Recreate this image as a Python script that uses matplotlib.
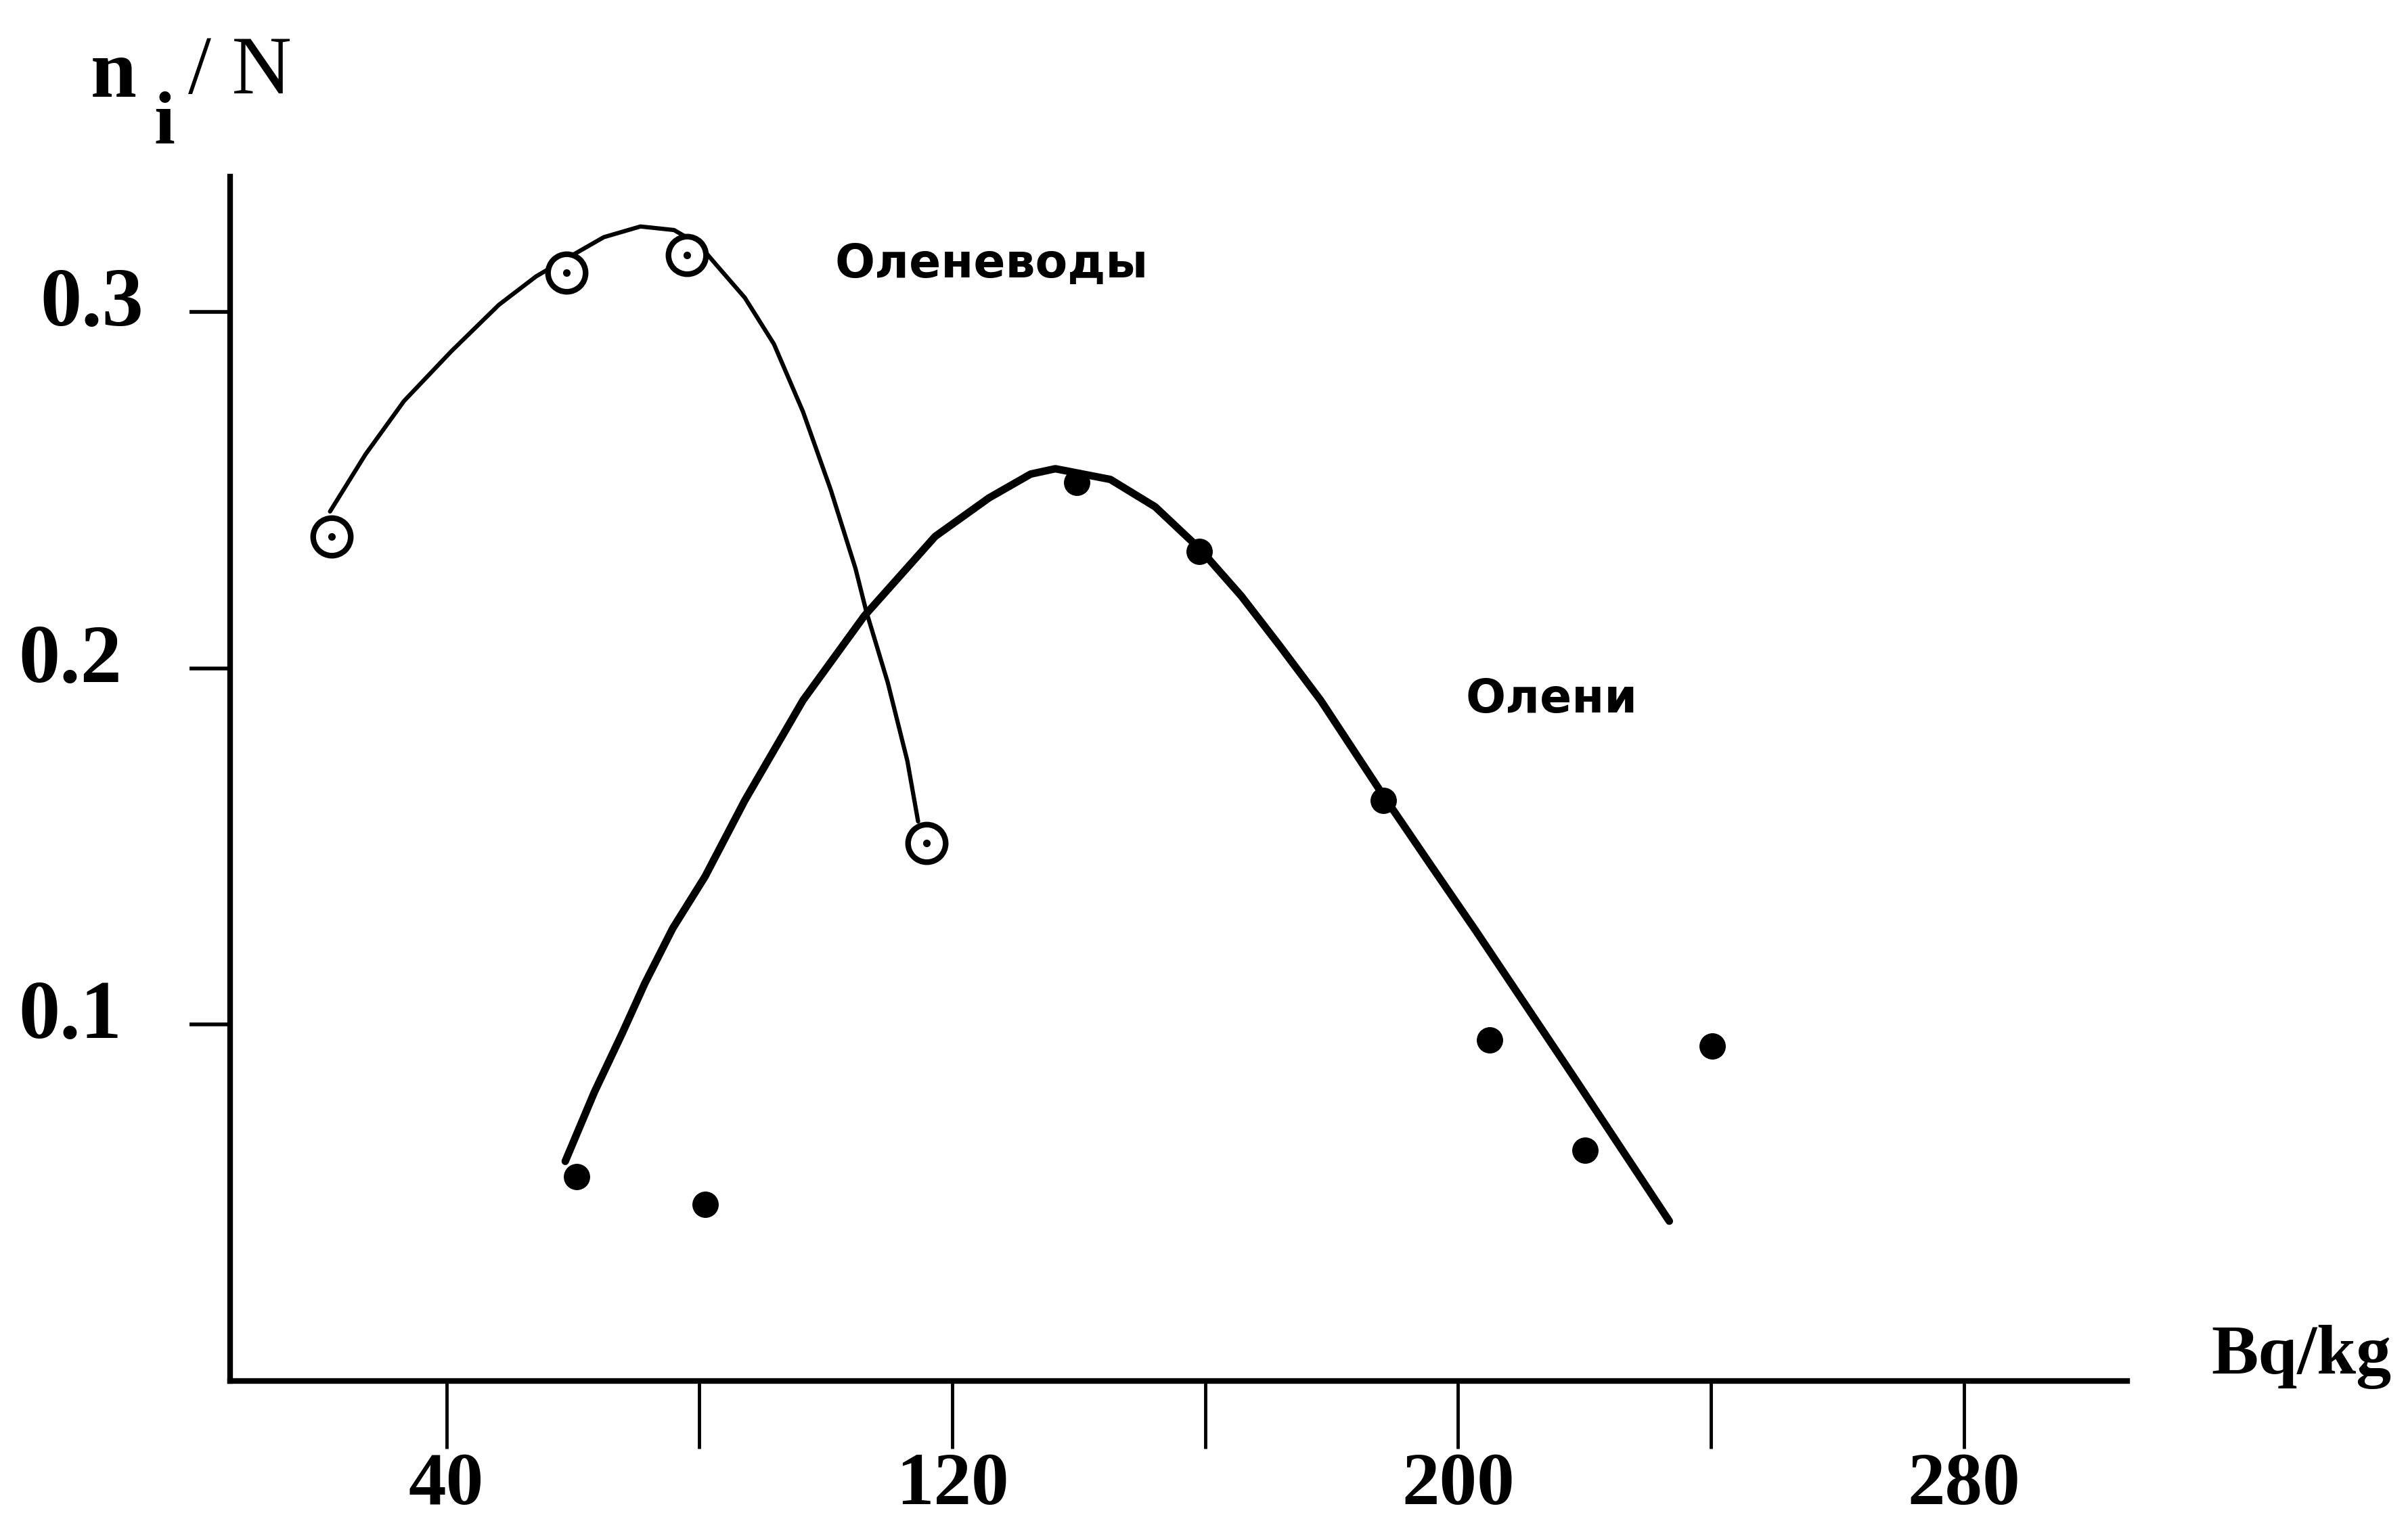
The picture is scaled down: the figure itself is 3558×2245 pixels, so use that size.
import matplotlib
matplotlib.use("Agg")
import matplotlib.pyplot as plt
from matplotlib.transforms import ScaledTranslation

# ---- data (x in Bq/kg, y = n_i / N) ----
herders_x = [21.9, 59.0, 78.0, 115.9]
herders_y = [0.237, 0.311, 0.316, 0.151]

# hand-drawn smoothing curve through the herders' points
herders_curve_x = [21.6, 27.2, 33.3, 40.8, 48.3, 54.2, 59.0, 64.9, 70.7, 76.0,
                   79.9, 82.8, 87.2, 91.8, 96.4, 100.8, 104.7, 106.4, 109.8,
                   112.9, 114.6]
herders_curve_y = [0.244, 0.260, 0.275, 0.289, 0.302, 0.310, 0.315, 0.321,
                   0.324, 0.323, 0.319, 0.313, 0.304, 0.291, 0.272, 0.250,
                   0.228, 0.216, 0.196, 0.174, 0.157]

deer_x = [60.6, 80.9, 139.7, 159.1, 188.2, 205.0, 220.1, 240.2]
deer_y = [0.0573, 0.0496, 0.2522, 0.2328, 0.1629, 0.0957, 0.0647, 0.0940]

# hand-drawn smoothing curve through the deer points
deer_curve_x = [58.8, 63.4, 67.8, 71.4, 75.8, 80.9, 87.2, 96.4, 106.1, 117.3,
                125.8, 132.4, 136.3, 145.0, 152.1, 159.1, 165.7, 171.7, 178.3,
                188.2, 195.8, 202.8, 218.1, 233.4]
deer_curve_y = [0.0616, 0.0810, 0.0975, 0.1116, 0.1270, 0.1415, 0.1629,
                0.1910, 0.2147, 0.2370, 0.2478, 0.2545, 0.2560, 0.2530,
                0.2453, 0.2336, 0.2203, 0.2065, 0.1909, 0.1642, 0.1444,
                0.1263, 0.0858, 0.0448]

x_ticks = [40, 80, 120, 160, 200, 240, 280]
x_tick_labels = ["40", "", "120", "", "200", "", "280"]
y_ticks = [0.1, 0.2, 0.3]
y_tick_labels = ["0.1", "0.2", "0.3"]

label_herders = "Оленеводы"
label_deer = "Олени"

W, H = 3558, 2245
SERIF = "Liberation Serif"
SANS = "DejaVu Sans"

fig = plt.figure(figsize=(W / 100, H / 100), dpi=100, facecolor="white")
ax = fig.add_axes([340 / W, 1 - 2040.7 / H, (3143 - 340) / W, (2040.7 - 261) / H])

ax.plot(herders_curve_x, herders_curve_y, color="black", lw=4.5,
        solid_capstyle="round", solid_joinstyle="round", zorder=2)
ax.plot(deer_curve_x, deer_curve_y, color="black", lw=8,
        solid_capstyle="round", solid_joinstyle="round", zorder=2)

ax.plot(herders_x, herders_y, linestyle="none", marker="o", ms=40,
        mfc="white", mec="black", mew=6, zorder=3)
ax.plot(herders_x, herders_y, linestyle="none", marker="o", ms=7,
        color="black", zorder=4)
ax.plot(deer_x, deer_y, linestyle="none", marker="o", ms=27,
        color="black", zorder=3)

ax.text(126.2, 0.3134, label_herders, family=SANS, fontweight="bold",
        fontsize=50, ha="center", va="center")
ax.text(214.8, 0.1913, label_deer, family=SANS, fontweight="bold",
        fontsize=50, ha="center", va="center")

ax.set_xlim(5.8, 305.8)
ax.set_ylim(0, 0.338)

for side in ("top", "right"):
    ax.spines[side].set_visible(False)
for side in ("left", "bottom"):
    ax.spines[side].set_linewidth(6)

ax.set_xticks(x_ticks)
ax.set_xticklabels(x_tick_labels, family=SERIF, fontweight="bold", fontsize=80)
ax.set_yticks(y_ticks)
ax.set_yticklabels(y_tick_labels, family=SERIF, fontweight="bold", fontsize=88)
ax.tick_params(axis="x", direction="out", length=72, width=3.5, pad=4)
ax.tick_params(axis="y", direction="out", length=43, width=4, pad=72)
for lbl, txt in zip(ax.get_yticklabels(), y_tick_labels):
    dx = 23 / 72 if txt == "0.3" else 0
    lbl.set_transform(lbl.get_transform() +
                      ScaledTranslation(dx, 16 / 72, fig.dpi_scale_trans))

# axis titles, placed like the original hand lettering
fig.text(134 / W, 1 - 143 / H, "n", family=SERIF, fontweight="bold",
         fontsize=88, ha="left", va="baseline")
fig.text(228 / W, 1 - 212 / H, "i", family=SERIF, fontweight="bold",
         fontsize=80, ha="left", va="baseline")
fig.text(278 / W, 1 - 138 / H, "/ N", family=SERIF, fontsize=88,
         ha="left", va="baseline")
fig.text(3267 / W, 1 - 2030 / H, "Bq/kg", family=SERIF, fontweight="bold",
         fontsize=75, ha="left", va="baseline")

fig.savefig("out.png", dpi=100, facecolor="white")
